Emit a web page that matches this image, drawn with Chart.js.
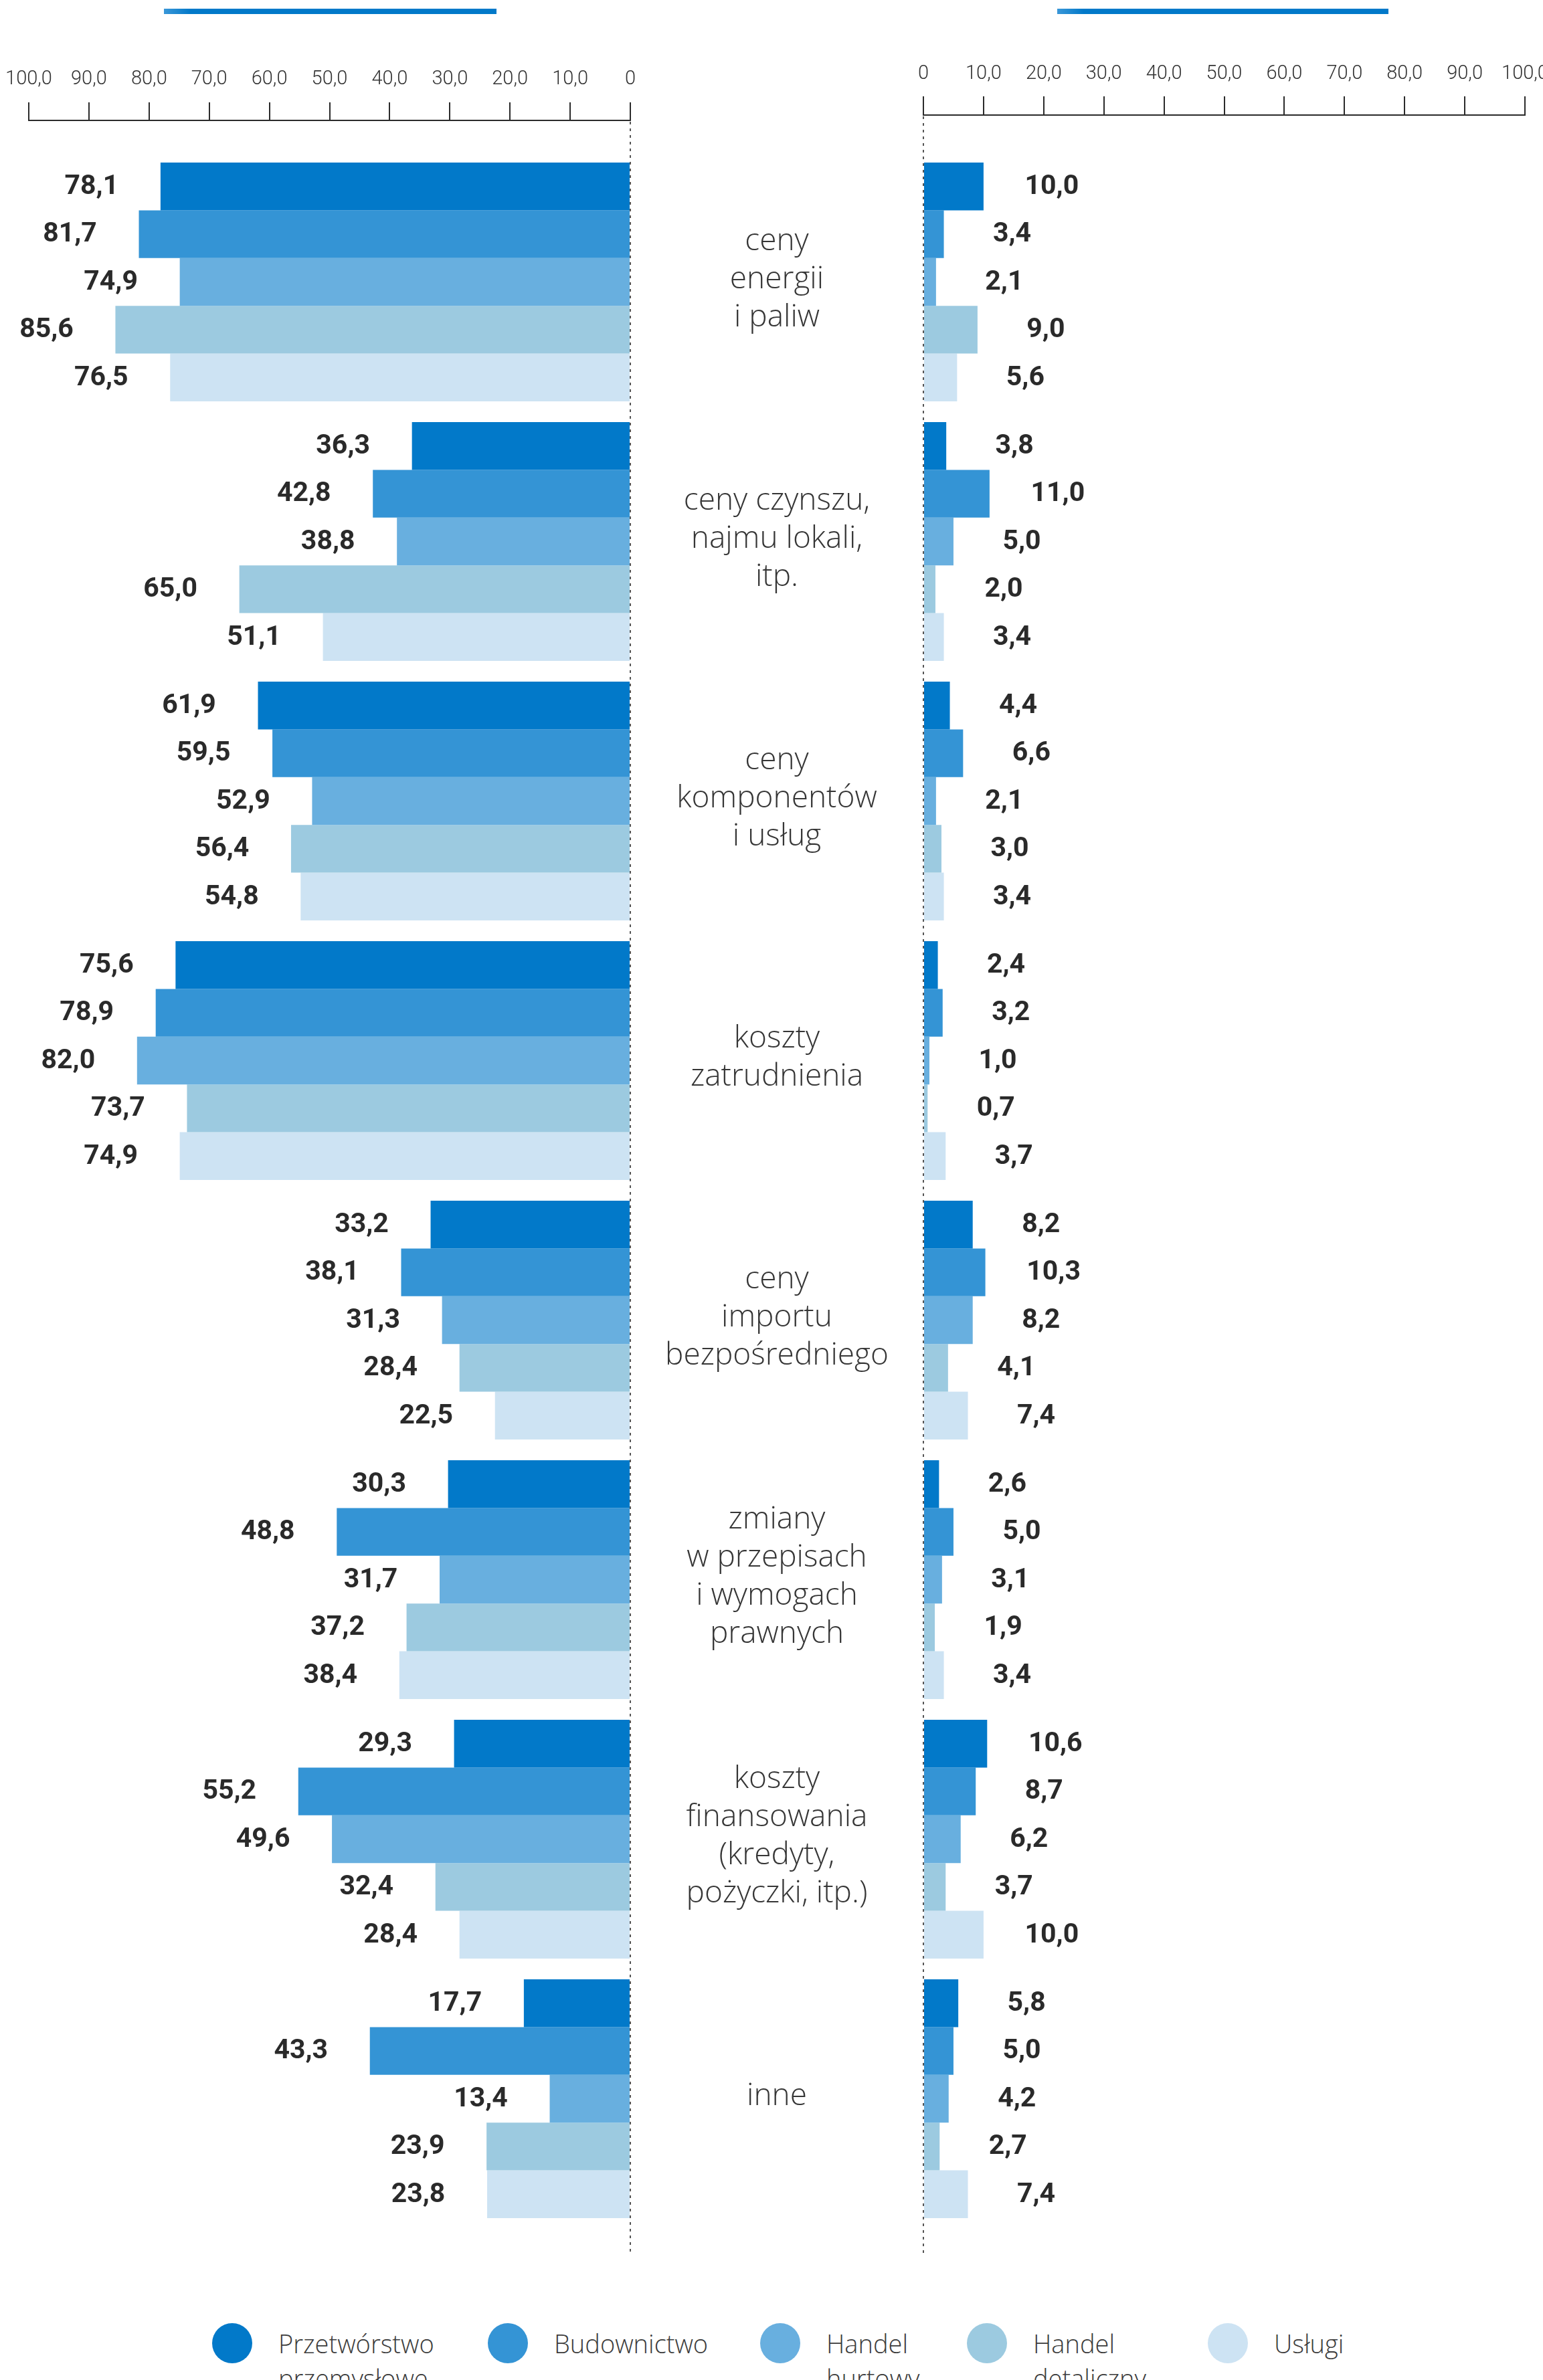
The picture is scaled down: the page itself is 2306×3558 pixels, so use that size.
<!DOCTYPE html>
<html lang="pl">
<head>
<meta charset="utf-8">
<title>Czynniki kosztowe</title>
<script src="https://cdn.jsdelivr.net/npm/chart.js@4.4.1/dist/chart.umd.min.js"></script>
<style>
  html, body { margin: 0; padding: 0; background: #fff; }
  body { width: 2306px; height: 3558px; position: relative; overflow: hidden; }
  canvas { position: absolute; top: 0; }
  #left-chart { left: 0; }
  #right-chart { left: 1300px; }
  .topbar { position: absolute; top: 13px; height: 8px; background: linear-gradient(to right, #3a97d8, #0279c9 8%); }
  #legend { position: absolute; top: 3477px; left: 0; width: 2306px; height: 90px;
    font-family: 'Open Sans', sans-serif; font-weight: 300; font-size: 38px; line-height: 52px; color: #3c3c3c; }
  .item { position: absolute; top: 0; display: flex; align-items: flex-start; }
  .dot { width: 60px; height: 60px; border-radius: 50%; margin-top: -4px; margin-right: 39px; flex: none; }
</style>
</head>
<body>
<div class="topbar" style="left:245px;width:497px"></div>
<div class="topbar" style="left:1580px;width:495px"></div>
<canvas id="left-chart" width="1380" height="3400"></canvas>
<canvas id="right-chart" width="1060" height="3400"></canvas>
<div id="legend"></div>
<script>
// czynniki kosztowe: lewy panel i prawy panel (% firm), 5 sektorow

const categories = [
  ['ceny', 'energii', 'i paliw'],
  ['ceny czynszu,', 'najmu lokali,', 'itp.'],
  ['ceny', 'komponentów', 'i usług'],
  ['koszty', 'zatrudnienia'],
  ['ceny', 'importu', 'bezpośredniego'],
  ['zmiany', 'w przepisach', 'i wymogach', 'prawnych'],
  ['koszty', 'finansowania', '(kredyty,', 'pożyczki, itp.)'],
  ['inne']
];

const sectors = ['Przetwórstwo przemysłowe', 'Budownictwo', 'Handel hurtowy', 'Handel detaliczny', 'Usługi'];
const colors = ['#0279c9', '#3494d5', '#68afdf', '#9ccae0', '#cde3f3'];

// lewy panel
const leftPrzetworstwo = [78.1, 36.3, 61.9, 75.6, 33.2, 30.3, 29.3, 17.7];
const leftBudownictwo  = [81.7, 42.8, 59.5, 78.9, 38.1, 48.8, 55.2, 43.3];
const leftHurt         = [74.9, 38.8, 52.9, 82.0, 31.3, 31.7, 49.6, 13.4];
const leftDetal        = [85.6, 65.0, 56.4, 73.7, 28.4, 37.2, 32.4, 23.9];
const leftUslugi       = [76.5, 51.1, 54.8, 74.9, 22.5, 38.4, 28.4, 23.8];

// prawy panel
const rightPrzetworstwo = [10.0, 3.8, 4.4, 2.4, 8.2, 2.6, 10.6, 5.8];
const rightBudownictwo  = [3.4, 11.0, 6.6, 3.2, 10.3, 5.0, 8.7, 5.0];
const rightHurt         = [2.1, 5.0, 2.1, 1.0, 8.2, 3.1, 6.2, 4.2];
const rightDetal        = [9.0, 2.0, 3.0, 0.7, 4.1, 1.9, 3.7, 2.7];
const rightUslugi       = [5.6, 3.4, 3.4, 3.7, 7.4, 3.4, 10.0, 7.4];

const tickLabels = ['0', '10,0', '20,0', '30,0', '40,0', '50,0', '60,0', '70,0', '80,0', '90,0', '100,0'];

const fmt = v => v.toFixed(1).replace('.', ',');

function makeDatasets(series) {
  return series.map((data, i) => ({
    label: sectors[i],
    data: data,
    backgroundColor: colors[i],
    borderWidth: 0,
    categoryPercentage: 0.92,
    barPercentage: 1.0
  }));
}

// value next to every bar
function valueLabels(offset) {
  return {
    id: 'values',
    afterDatasetsDraw(chart) {
      const ctx = chart.ctx;
      ctx.save();
      ctx.font = 'bold 41px Roboto, sans-serif';
      ctx.fillStyle = '#2a2a2a';
      ctx.textAlign = 'center';
      ctx.textBaseline = 'middle';
      chart.data.datasets.forEach((ds, i) => {
        chart.getDatasetMeta(i).data.forEach((bar, j) => {
          ctx.fillText(fmt(ds.data[j]), bar.x + offset, bar.y + 1);
        });
      });
      ctx.restore();
    }
  };
}

// dotted line at 0
const zeroLine = {
  id: 'zeroLine',
  afterDraw(chart) {
    const x = chart.scales.x;
    const ctx = chart.ctx;
    const px = Math.round(x.getPixelForValue(0));
    ctx.save();
    ctx.strokeStyle = '#555';
    ctx.lineWidth = 2;
    ctx.setLineDash([4, 6]);
    ctx.beginPath();
    ctx.moveTo(px, x.bottom + 2);
    ctx.lineTo(px, chart.chartArea.bottom + 40);
    ctx.stroke();
    ctx.restore();
  }
};

// category names in the middle column
const categoryText = {
  id: 'categoryText',
  afterDraw(chart) {
    const y = chart.scales.y;
    const ctx = chart.ctx;
    const cx = chart.chartArea.right + 219;
    const lh = 57;
    ctx.save();
    ctx.font = '300 46px "Open Sans", sans-serif';
    ctx.fillStyle = '#363636';
    ctx.textAlign = 'center';
    ctx.textBaseline = 'middle';
    categories.forEach((lines, i) => {
      const cy = y.getPixelForValue(i);
      lines.forEach((t, k) => {
        ctx.fillText(t, cx, cy + (k - (lines.length - 1) / 2) * lh - 4);
      });
    });
    ctx.restore();
  }
};

function axisOptions(reverse, tickLen, pad, gapHeight) {
  return {
    x: {
      position: 'top', reverse: reverse, min: 0, max: 100, weight: 1,
      grid: { drawOnChartArea: false, drawTicks: true, tickLength: tickLen, color: '#2b2b2b', lineWidth: 2 },
      border: { display: true, color: '#2b2b2b', width: 2 },
      ticks: {
        stepSize: 10, padding: pad, color: '#333', maxRotation: 0, autoSkip: false,
        font: { family: 'Roboto', weight: 300, size: 29 },
        callback: v => tickLabels[Math.round(v / 10)]
      },
      afterFit: s => { s.height = 80; s.paddingLeft = 0; s.paddingRight = 0; }
    },
    gap: {
      type: 'linear', axis: 'x', position: 'top', display: true, weight: 0,
      grid: { display: false }, border: { display: false }, ticks: { display: false },
      afterFit: s => { s.height = gapHeight; s.paddingLeft = 0; s.paddingRight = 0; }
    },
    y: { display: false }
  };
}

const labels = categories.map(c => c.join(' '));

new Chart(document.getElementById('left-chart'), {
  type: 'bar',
  data: {
    labels: labels,
    datasets: makeDatasets([leftPrzetworstwo, leftBudownictwo, leftHurt, leftDetal, leftUslugi])
  },
  options: {
    indexAxis: 'y',
    responsive: false,
    devicePixelRatio: 1,
    animation: false,
    layout: { padding: { left: 43, right: 438, top: 100, bottom: 68.5 } },
    plugins: { legend: { display: false }, tooltip: { enabled: false } },
    scales: axisOptions(true, 27, 17, 47.5)
  },
  plugins: [valueLabels(-103), zeroLine, categoryText]
});

new Chart(document.getElementById('right-chart'), {
  type: 'bar',
  data: {
    labels: labels,
    datasets: makeDatasets([rightPrzetworstwo, rightBudownictwo, rightHurt, rightDetal, rightUslugi])
  },
  options: {
    indexAxis: 'y',
    responsive: false,
    devicePixelRatio: 1,
    animation: false,
    layout: { padding: { left: 80, right: 81, top: 92, bottom: 68.5 } },
    plugins: { legend: { display: false }, tooltip: { enabled: false } },
    scales: axisOptions(false, 28, 16, 55.5)
  },
  plugins: [valueLabels(102), zeroLine]
});

// legend, dot centres
const legendX = [347, 759, 1166, 1475, 1835];
const legend = document.getElementById('legend');
sectors.forEach((name, i) => {
  legend.innerHTML += '<div class="item" style="left:' + (legendX[i] - 30) + 'px"><span class="dot" style="background:' +
    colors[i] + '"></span><span>' + name.replace(' ', '<br>') + '</span></div>';
});
</script>
</body>
</html>
